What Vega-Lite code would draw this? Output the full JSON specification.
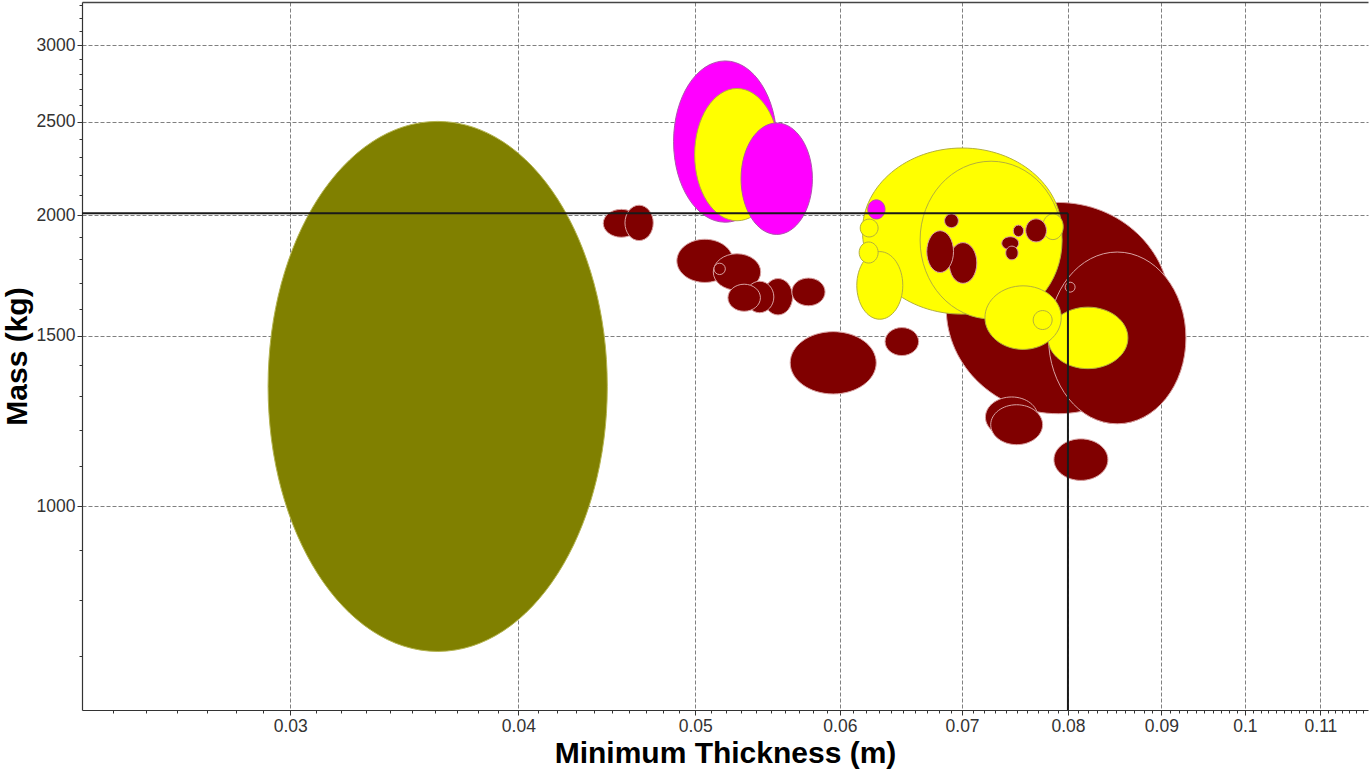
{
  "$schema": "https://vega.github.io/schema/vega-lite/v6.json",
  "width": 1286,
  "height": 708,
  "autosize": "none",
  "padding": {"left": 82, "top": 2, "right": 1, "bottom": 61},
  "background": "white",
  "config": {
    "view": {"stroke": null},
    "font": "Liberation Sans"
  },
  "datasets": {
    "designs": [
      {"thickness": 0.03613, "mass": 1330, "weight": 179.8, "ratio": "0.64", "group": "A"},
      {"thickness": 0.05192, "mass": 2384, "weight": 16.64, "ratio": "0.64", "group": "B"},
      {"thickness": 0.05270, "mass": 2311, "weight": 11.2, "ratio": "0.64", "group": "C"},
      {"thickness": 0.05541, "mass": 2182, "weight": 7.95, "ratio": "0.64", "group": "B"},
      {"thickness": 0.04555, "mass": 1962, "weight": 1.01, "ratio": "1.3", "group": "D"},
      {"thickness": 0.04658, "mass": 1964, "weight": 1.0, "ratio": "0.8", "group": "D"},
      {"thickness": 0.05061, "mass": 1794, "weight": 2.42, "ratio": "1.3", "group": "D"},
      {"thickness": 0.05270, "mass": 1747, "weight": 1.73, "ratio": "1.3", "group": "D"},
      {"thickness": 0.05156, "mass": 1760, "weight": 0.13, "ratio": "1.0", "group": "D"},
      {"thickness": 0.05318, "mass": 1643, "weight": 0.88, "ratio": "1.2", "group": "D"},
      {"thickness": 0.05423, "mass": 1646, "weight": 0.89, "ratio": "0.9", "group": "D"},
      {"thickness": 0.05550, "mass": 1647, "weight": 1.06, "ratio": "0.8", "group": "D"},
      {"thickness": 0.05767, "mass": 1666, "weight": 0.92, "ratio": "1.2", "group": "D"},
      {"thickness": 0.05950, "mass": 1407, "weight": 5.36, "ratio": "1.38", "group": "D"},
      {"thickness": 0.06488, "mass": 1480, "weight": 0.94, "ratio": "1.2", "group": "D"},
      {"thickness": 0.06310, "mass": 1692, "weight": 3.11, "ratio": "0.68", "group": "C"},
      {"thickness": 0.06222, "mass": 1830, "weight": 0.40, "ratio": "0.9", "group": "C"},
      {"thickness": 0.06226, "mass": 1940, "weight": 0.32, "ratio": "1.0", "group": "C"},
      {"thickness": 0.06283, "mass": 2028, "weight": 0.33, "ratio": "0.9", "group": "B"},
      {"thickness": 0.07000, "mass": 1926, "weight": 33.1, "ratio": "1.2", "group": "C"},
      {"thickness": 0.07261, "mass": 1885, "weight": 22.4, "ratio": "0.9", "group": "C"},
      {"thickness": 0.06907, "mass": 1974, "weight": 0.19, "ratio": "1.0", "group": "D"},
      {"thickness": 0.06809, "mass": 1834, "weight": 1.12, "ratio": "0.64", "group": "D"},
      {"thickness": 0.07008, "mass": 1785, "weight": 1.13, "ratio": "0.68", "group": "D"},
      {"thickness": 0.07685, "mass": 1929, "weight": 0.48, "ratio": "0.9", "group": "D"},
      {"thickness": 0.07516, "mass": 1927, "weight": 0.12, "ratio": "0.9", "group": "D"},
      {"thickness": 0.07438, "mass": 1871, "weight": 0.22, "ratio": "1.3", "group": "D"},
      {"thickness": 0.07454, "mass": 1828, "weight": 0.17, "ratio": "0.9", "group": "D"},
      {"thickness": 0.07850, "mass": 1946, "weight": 0.53, "ratio": "0.8", "group": "C"},
      {"thickness": 0.07560, "mass": 1567, "weight": 4.85, "ratio": "1.2", "group": "C"},
      {"thickness": 0.07749, "mass": 1558, "weight": 0.36, "ratio": "1.0", "group": "C"},
      {"thickness": 0.08022, "mass": 1685, "weight": 0.10, "ratio": "1.0", "group": "D"},
      {"thickness": 0.07902, "mass": 1603, "weight": 47.3, "ratio": "1.06", "group": "D"},
      {"thickness": 0.08513, "mass": 1493, "weight": 23.6, "ratio": "0.8", "group": "D"},
      {"thickness": 0.08204, "mass": 1493, "weight": 4.92, "ratio": "1.3", "group": "C"},
      {"thickness": 0.07452, "mass": 1236, "weight": 2.12, "ratio": "1.3", "group": "D"},
      {"thickness": 0.07499, "mass": 1214, "weight": 2.07, "ratio": "1.3", "group": "D"},
      {"thickness": 0.08132, "mass": 1117, "weight": 2.24, "ratio": "1.3", "group": "D"}
    ],
    "limits": [
      {"thickness_min": 0.02307, "thickness": 0.08, "mass_min": 615, "mass": 2010}
    ]
  },
  "resolve": {"axis": {"x": "independent"}},
  "layer": [
    {
      "data": {"name": "designs"},
      "mark": {"type": "point", "filled": true, "opacity": 1, "strokeWidth": 1},
      "encoding": {
        "x": {
          "field": "thickness",
          "type": "quantitative",
          "title": "Minimum Thickness (m)",
          "scale": {"type": "log", "domain": [0.02307, 0.1168], "nice": false},
          "axis": {
            "orient": "bottom",
            "values": [0.024, 0.025, 0.026, 0.027, 0.028, 0.029,
              0.03, 0.031, 0.032, 0.033, 0.034, 0.035, 0.036, 0.037, 0.038, 0.039,
              0.04, 0.041, 0.042, 0.043, 0.044, 0.045, 0.046, 0.047, 0.048, 0.049,
              0.05, 0.051, 0.052, 0.053, 0.054, 0.055, 0.056, 0.057, 0.058, 0.059,
              0.06, 0.061, 0.062, 0.063, 0.064, 0.065, 0.066, 0.067, 0.068, 0.069,
              0.07, 0.071, 0.072, 0.073, 0.074, 0.075, 0.076, 0.077, 0.078, 0.079,
              0.08, 0.081, 0.082, 0.083, 0.084, 0.085, 0.086, 0.087, 0.088, 0.089,
              0.09, 0.091, 0.092, 0.093, 0.094, 0.095, 0.096, 0.097, 0.098, 0.099,
              0.1, 0.101, 0.102, 0.103, 0.104, 0.105, 0.106, 0.107, 0.108, 0.109,
              0.11, 0.111, 0.112, 0.113, 0.114, 0.115, 0.116],
            "labelExpr": "abs(datum.value * 100 - round(datum.value * 100)) < 0.001 ? format(datum.value, '.2~f') : ''",
            "labelOverlap": false,
            "labelFlush": false,
            "labelFontSize": 17.5,
            "labelColor": "#333333",
            "labelPadding": 2,
            "tickColor": "#333333",
            "tickWidth": 1,
            "tickSize": {"condition": {"test": "abs(datum.value * 100 - round(datum.value * 100)) < 0.001", "value": 5}, "value": 3},
            "domainColor": "#333333",
            "domainWidth": 1.2,
            "grid": true,
            "gridColor": "#808080",
            "gridDash": [4, 2],
            "gridWidth": 1,
            "gridOpacity": {"condition": {"test": "abs(datum.value * 100 - round(datum.value * 100)) < 0.001", "value": 1}, "value": 0},
            "titleFontSize": 30,
            "titleFontWeight": "bold",
            "titleColor": "#000000",
            "titlePadding": 4
          }
        },
        "y": {
          "field": "mass",
          "type": "quantitative",
          "title": "Mass (kg)",
          "scale": {"type": "log", "domain": [615, 3325], "nice": false},
          "axis": {
            "orient": "left",
            "values": [700, 800, 900, 1000, 1100, 1200, 1300, 1400, 1500, 1600, 1700, 1800, 1900, 2000,
              2100, 2200, 2300, 2400, 2500, 2600, 2700, 2800, 2900, 3000, 3100, 3200, 3300],
            "labelExpr": "datum.value % 500 === 0 ? format(datum.value, 'd') : ''",
            "labelOverlap": false,
            "labelFlush": false,
            "labelFontSize": 17.5,
            "labelColor": "#333333",
            "labelPadding": 2,
            "tickColor": "#333333",
            "tickWidth": 1,
            "tickSize": {"condition": {"test": "datum.value % 500 === 0", "value": 5}, "value": 3},
            "domainColor": "#333333",
            "domainWidth": 1.2,
            "grid": true,
            "gridColor": "#808080",
            "gridDash": [4, 2],
            "gridWidth": 1,
            "gridOpacity": {"condition": {"test": "datum.value % 500 === 0", "value": 1}, "value": 0},
            "titleFontSize": 30,
            "titleFontWeight": "bold",
            "titleColor": "#000000",
            "titlePadding": 4
          }
        },
        "size": {
          "field": "weight",
          "type": "quantitative",
          "scale": {"type": "linear", "domain": [0, 200], "range": [0, 200000]},
          "legend": null
        },
        "shape": {
          "field": "ratio",
          "type": "nominal",
          "scale": {
            "domain": ["0.64", "0.68", "0.8", "0.9", "1.0", "1.06", "1.2", "1.3", "1.38"],
            "range": [
              "M0.8,0 C0.8,0.6904 0.4418,1.25 0,1.25 C-0.4418,1.25 -0.8,0.6904 -0.8,0 C-0.8,-0.6904 -0.4418,-1.25 0,-1.25 C0.4418,-1.25 0.8,-0.6904 0.8,0 Z",
              "M0.8246,0 C0.8246,0.6698 0.4554,1.2127 0,1.2127 C-0.4554,1.2127 -0.8246,0.6698 -0.8246,0 C-0.8246,-0.6698 -0.4554,-1.2127 0,-1.2127 C0.4554,-1.2127 0.8246,-0.6698 0.8246,0 Z",
              "M0.8944,0 C0.8944,0.6175 0.494,1.118 0,1.118 C-0.494,1.118 -0.8944,0.6175 -0.8944,0 C-0.8944,-0.6175 -0.494,-1.118 0,-1.118 C0.494,-1.118 0.8944,-0.6175 0.8944,0 Z",
              "M0.9487,0 C0.9487,0.5822 0.524,1.0541 0,1.0541 C-0.524,1.0541 -0.9487,0.5822 -0.9487,0 C-0.9487,-0.5822 -0.524,-1.0541 0,-1.0541 C0.524,-1.0541 0.9487,-0.5822 0.9487,0 Z",
              "M1,0 C1,0.5523 0.5523,1 0,1 C-0.5523,1 -1,0.5523 -1,0 C-1,-0.5523 -0.5523,-1 0,-1 C0.5523,-1 1,-0.5523 1,0 Z",
              "M1.0296,0 C1.0296,0.5364 0.5686,0.9713 0,0.9713 C-0.5686,0.9713 -1.0296,0.5364 -1.0296,0 C-1.0296,-0.5364 -0.5686,-0.9713 0,-0.9713 C0.5686,-0.9713 1.0296,-0.5364 1.0296,0 Z",
              "M1.0954,0 C1.0954,0.5042 0.605,0.9129 0,0.9129 C-0.605,0.9129 -1.0954,0.5042 -1.0954,0 C-1.0954,-0.5042 -0.605,-0.9129 0,-0.9129 C0.605,-0.9129 1.0954,-0.5042 1.0954,0 Z",
              "M1.1402,0 C1.1402,0.4844 0.6297,0.8771 0,0.8771 C-0.6297,0.8771 -1.1402,0.4844 -1.1402,0 C-1.1402,-0.4844 -0.6297,-0.8771 0,-0.8771 C0.6297,-0.8771 1.1402,-0.4844 1.1402,0 Z",
              "M1.1747,0 C1.1747,0.4702 0.6488,0.8513 0,0.8513 C-0.6488,0.8513 -1.1747,0.4702 -1.1747,0 C-1.1747,-0.4702 -0.6488,-0.8513 0,-0.8513 C0.6488,-0.8513 1.1747,-0.4702 1.1747,0 Z"
            ]
          },
          "legend": null
        },
        "fill": {
          "field": "group",
          "type": "nominal",
          "scale": {"domain": ["A", "B", "C", "D"], "range": ["#808000", "#ff00ff", "#ffff00", "#800000"]},
          "legend": null
        },
        "stroke": {
          "field": "group",
          "type": "nominal",
          "scale": {"domain": ["A", "B", "C", "D"], "range": ["#b4b450", "#b050b0", "#b4b03c", "#d8a2a2"]},
          "legend": null
        },
        "order": {"field": "weight", "type": "quantitative", "sort": "descending"}
      }
    },
    {
      "data": {"name": "limits"},
      "mark": {"type": "rule", "color": "#1a1a1a", "strokeWidth": 2},
      "encoding": {
        "x": {
          "field": "thickness_min",
          "type": "quantitative",
          "axis": {"orient": "top", "ticks": false, "labels": false, "grid": false, "domain": true, "domainColor": "#444444", "domainWidth": 1.5, "title": null}
        },
        "x2": {"field": "thickness"},
        "y": {"field": "mass", "type": "quantitative", "title": "Mass (kg)"}
      }
    },
    {
      "data": {"name": "limits"},
      "mark": {"type": "rule", "color": "#1a1a1a", "strokeWidth": 2},
      "encoding": {
        "x": {"field": "thickness", "type": "quantitative", "axis": null},
        "y": {"field": "mass_min", "type": "quantitative", "title": "Mass (kg)"},
        "y2": {"field": "mass"}
      }
    }
  ]
}
